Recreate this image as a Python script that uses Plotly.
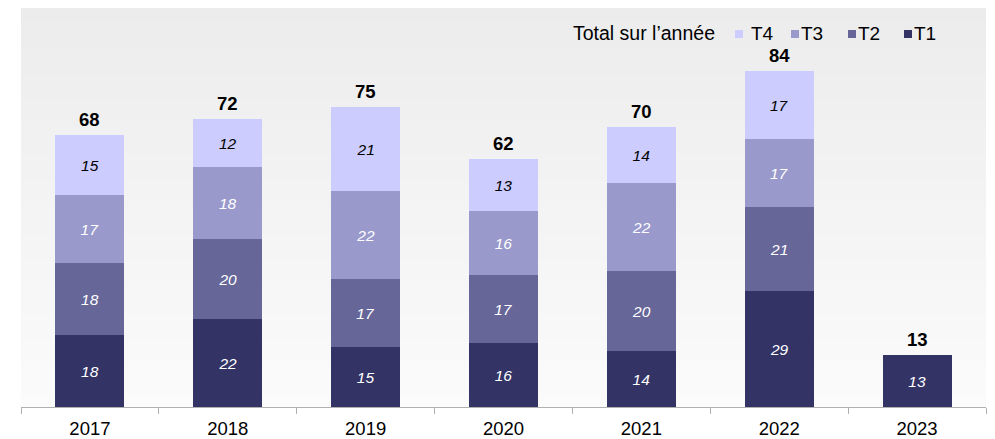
import plotly.graph_objects as go

years = ["2017", "2018", "2019", "2020", "2021", "2022", "2023"]
t1 = [18, 22, 15, 16, 14, 29, 13]
t2 = [18, 20, 17, 17, 20, 21, None]
t3 = [17, 18, 22, 16, 22, 17, None]
t4 = [15, 12, 21, 13, 14, 17, None]
totals = [68, 72, 75, 62, 70, 84, 13]
legend_title = "Total sur l’année"

series = [
    ("T1", t1, "#333366", "white"),
    ("T2", t2, "#666699", "white"),
    ("T3", t3, "#9999cc", "white"),
    ("T4", t4, "#ccccff", "black"),
]

FONT = "Liberation Sans, Arial, sans-serif"

# page geometry (browser body has an 8px margin)
W, H = 987, 431
ML, MR, MT, MB = 13, 9, 0, 32
OFF = 8
PL, PR = ML + OFF, W - MR + OFF      # plot left/right in screen px
PT, PB = MT + OFF, H - MB + OFF      # plot top/bottom in screen px


def px(sx):
    return (sx - PL) / (PR - PL)


def py(sy):
    return (PB - sy) / (PB - PT)


fig = go.Figure()
for name, vals, color, tcol in series:
    fig.add_trace(go.Bar(
        name=name, x=years, y=vals,
        marker=dict(color=color, line=dict(width=0)),
        width=0.5,
        text=[("" if v is None else str(v)) for v in vals],
        textposition="inside", insidetextanchor="middle",
        textangle=0,
        textfont=dict(family=FONT, size=15.5, color=tcol, style="italic"),
        hoverinfo="skip", showlegend=False,
    ))

# totals above each column (category index used as position)
for i, tot in enumerate(totals):
    fig.add_annotation(x=i, y=tot, xref="x", yref="y",
                       text="<b>%d</b>" % tot, showarrow=False,
                       yanchor="bottom", yshift=3,
                       font=dict(family=FONT, size=18.5, color="black"))

# vertical gradient background for the plot area
n = 60
c_top, c_bot = 0xEC, 0xFB
for k in range(n):
    f = k / (n - 1)
    c = round(c_bot + (c_top - c_bot) * f)
    fig.add_shape(type="rect", xref="paper", yref="paper",
                  x0=0, x1=1, y0=k / n, y1=min(1, (k + 1) / n + 0.002),
                  fillcolor="rgb(%d,%d,%d)" % (c, c, c), line=dict(width=0),
                  layer="below")

# legend drawn by hand (order T4, T3, T2, T1)
leg_cy = 33
fig.add_annotation(xref="paper", yref="paper", x=px(717), y=py(leg_cy),
                   xanchor="right", yanchor="middle", showarrow=False,
                   text=legend_title, font=dict(family=FONT, size=19.5, color="black"))
sq_left = [735, 791, 848, 904]
txt_left = [749, 799, 856, 912]
for (name, vals, color, tcol), sx, tx in zip(series[::-1], sq_left, txt_left):
    fig.add_shape(type="rect", xref="paper", yref="paper",
                  x0=px(sx), x1=px(sx + 8), y0=py(38), y1=py(30),
                  fillcolor=color, line=dict(width=0))
    fig.add_annotation(xref="paper", yref="paper", x=px(tx), y=py(leg_cy),
                       xanchor="left", yanchor="middle", showarrow=False,
                       text=name, font=dict(family=FONT, size=19, color="black"))

fig.update_layout(
    width=W, height=H,
    margin=dict(l=ML, r=MR, t=MT, b=MB, autoexpand=False),
    barmode="stack", bargap=0.5,
    paper_bgcolor="white", plot_bgcolor="rgba(0,0,0,0)",
    font=dict(family=FONT, size=18, color="black"),
    showlegend=False,
    xaxis=dict(
        type="category", categoryorder="array", categoryarray=years,
        range=[-0.5, len(years) - 0.5],
        showline=True, linecolor="#b0b0b0", linewidth=1,
        ticks="outside", tickson="boundaries", ticklen=6, tickcolor="#b0b0b0",
        tickwidth=1, tickfont=dict(size=18.5), ticklabelstandoff=5,
        showgrid=False,
    ),
    yaxis=dict(range=[0, (PB - PT) / 4.0], visible=False, showgrid=False),
)

fig.write_html("out.html")
